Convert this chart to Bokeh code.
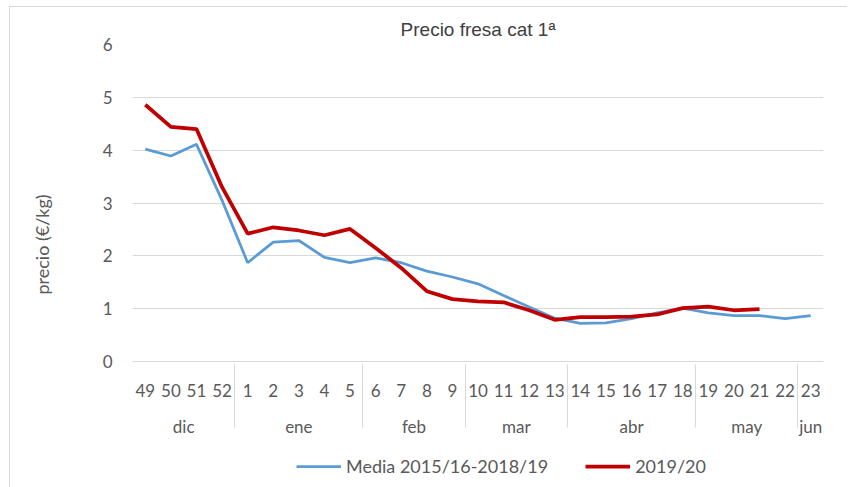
import numpy as np
from bokeh.plotting import figure
from bokeh.layouts import column
from bokeh.models import FactorRange, Legend, LegendItem, FixedTicker, ColumnDataSource, Range1d
from bokeh.embed import file_html
from bokeh.resources import INLINE

weeks = ["49", "50", "51", "52", "1", "2", "3", "4", "5", "6", "7", "8", "9", "10",
         "11", "12", "13", "14", "15", "16", "17", "18", "19", "20", "21", "22", "23"]
months = ["dic"] * 4 + ["ene"] * 5 + ["feb"] * 4 + ["mar"] * 4 + ["abr"] * 5 + ["may"] * 4 + ["jun"]
media = [4.02, 3.89, 4.11, 3.05, 1.87, 2.26, 2.29, 1.97, 1.87, 1.96, 1.87, 1.71, 1.60, 1.47,
         1.25, 1.03, 0.82, 0.72, 0.73, 0.81, 0.92, 1.01, 0.92, 0.87, 0.87, 0.81, 0.87]
season = [4.86, 4.44, 4.40, 3.30, 2.42, 2.54, 2.48, 2.39, 2.51, 2.15, 1.77, 1.33, 1.18, 1.14,
          1.12, 0.97, 0.79, 0.84, 0.84, 0.85, 0.89, 1.01, 1.04, 0.97, 0.99]
y_ticks = [0, 1, 2, 3, 4, 5, 6]
series_names = ["Media 2015/16-2018/19", "2019/20"]
series_colors = ["#5B9BD5", "#C00000"]
series_widths = [2.75, 3.75]

factors = list(zip(months, weeks))
TXT = "#595959"
FONT = "Lato"

p = figure(frame_width=690, frame_height=316, output_backend="svg", toolbar_location=None,
           x_range=FactorRange(*factors, factor_padding=0, group_padding=0, range_padding=0),
           y_range=(0, 6),
           min_border_left=122, min_border_right=25, min_border_top=37, min_border_bottom=0)
p.outline_line_color = None
p.styles = {"margin-left": "9px", "margin-top": "6px",
            "border-left": "1px solid #d9d9d9", "border-top": "1px solid #d9d9d9"}

src_m = ColumnDataSource(dict(x=factors, y=media))
src_s = ColumnDataSource(dict(x=factors[:len(season)], y=season))
p.line("x", "y", source=src_m, line_color=series_colors[0], line_width=series_widths[0])
p.line("x", "y", source=src_s, line_color=series_colors[1], line_width=series_widths[1])

p.title.text = "Precio fresa cat 1ª"
p.title.align = "center"
p.title.text_font = "Liberation Sans"
p.title.text_font_style = "normal"
p.title.text_font_size = "19px"
p.title.text_color = "#404040"

p.xgrid.grid_line_color = None
p.ygrid.grid_line_color = "#d9d9d9"
p.ygrid.grid_line_width = 1

p.yaxis.ticker = FixedTicker(ticks=y_ticks)
p.yaxis.axis_line_color = None
p.yaxis.major_tick_line_color = None
p.yaxis.minor_tick_line_color = None
p.yaxis.major_label_text_font = FONT
p.yaxis.major_label_text_font_size = "17px"
p.yaxis.major_label_text_color = TXT
p.yaxis.major_label_standoff = 14
pad = "\u00a0" * 18
p.yaxis.axis_label = "precio (€/kg)" + pad
p.yaxis.axis_label_text_font = FONT
p.yaxis.axis_label_text_font_size = "18px"
p.yaxis.axis_label_text_font_style = "normal"
p.yaxis.axis_label_text_color = TXT
p.yaxis.axis_label_standoff = 47

xa = p.xaxis[0]
xa.axis_line_color = "#d9d9d9"
xa.major_tick_line_color = None
xa.minor_tick_line_color = None
xa.major_label_text_font = FONT
xa.major_label_text_font_size = "17px"
xa.major_label_text_color = TXT
xa.group_text_font = FONT
xa.group_text_font_size = "17px"
xa.group_text_color = TXT
xa.group_text_font_style = "normal"
xa.separator_line_color = "#d9d9d9"
xa.separator_line_width = 1
xa.major_label_standoff = 16

# legend strip below the chart (its frame is aligned with the chart frame by the column)
lf = figure(width=847, height=49, output_backend="svg", toolbar_location=None,
            x_range=Range1d(0, 1), y_range=Range1d(0, 1),
            x_axis_location=None, y_axis_location=None,
            min_border_left=0, min_border_right=0, min_border_top=0, min_border_bottom=0)
lf.outline_line_color = None
lf.xgrid.grid_line_color = None
lf.ygrid.grid_line_color = None
lf.styles = {"margin-left": "9px", "border-left": "1px solid #d9d9d9"}
items = []
for name, col, w in zip(series_names, series_colors, series_widths):
    r = lf.line(x=np.array([np.nan]), y=np.array([np.nan]), line_color=col, line_width=w)
    items.append(LegendItem(label=name, renderers=[r]))

legend = Legend(items=items, orientation="horizontal", location=(164, 10),
                border_line_color=None, background_fill_alpha=0,
                label_text_font=FONT, label_text_font_size="18px", label_text_color=TXT,
                glyph_width=45, label_standoff=5, spacing=37, margin=0, padding=0)
lf.add_layout(legend)

layout = column(p, lf, spacing=0)
open("out.html", "w").write(file_html(layout, INLINE))
